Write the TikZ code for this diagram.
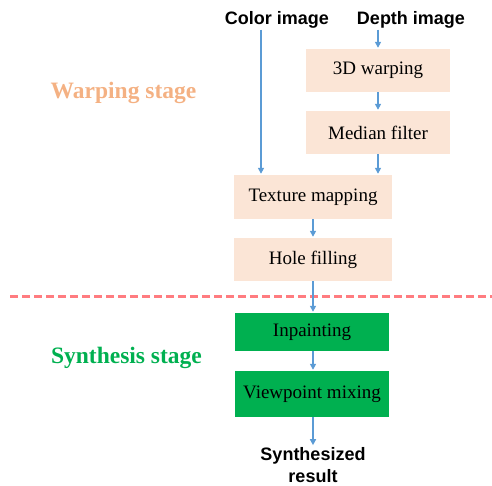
\documentclass[tikz,border=0pt]{standalone}
\usepackage{fontspec}
\setmainfont{Liberation Serif}
\newfontfamily\lblfont{Liberation Sans}
\usetikzlibrary{arrows.meta}
\definecolor{peach}{HTML}{FBE5D6}
\definecolor{warpclr}{HTML}{F4B183}
\definecolor{synclr}{HTML}{00B050}
\definecolor{arrclr}{HTML}{5B9BD5}
\definecolor{sepclr}{HTML}{FF7C80}
\tikzset{
  warpbox/.style={fill=peach, inner sep=0pt, font=\fontsize{19}{22}\selectfont},
  synbox/.style={fill=synclr, inner sep=0pt, font=\fontsize{19}{22}\selectfont},
  iolabel/.style={font=\lblfont\bfseries\fontsize{18}{22}\selectfont, align=center, inner sep=1pt},
  stagelabel/.style={font=\bfseries\fontsize{23.5}{26}\selectfont},
  flow/.style={-{Triangle[width=6pt,length=6pt]}, arrclr, line width=1.5pt, shorten >=1pt}
}
\begin{document}
\begin{tikzpicture}[x=1pt, y=-1pt]
				\useasboundingbox (0,0) rectangle (492,486);
				% inputs
				\node[iolabel] (color) at (277,20) {Color image};
				\node[iolabel] (depth) at (411,20) {Depth image};
				
				% warping stage
				\node[stagelabel, text=warpclr] (warplbl) at (123.5,93) {Warping stage};
				\node[warpbox, minimum width=144pt, minimum height=43pt] (warp) at (378,70.5) {3D warping};
				\node[warpbox, minimum width=144pt, minimum height=43pt] (median) at (378,132.5) {Median filter};
				\node[warpbox, minimum width=158pt, minimum height=44pt] (tex) at (313,197) {Texture mapping};
				\node[warpbox, minimum width=158pt, minimum height=43pt] (hole) at (313,259.5) {Hole filling};
				
				% separator
				\draw[sepclr, line width=3pt, dash pattern=on 8pt off 4pt] (10,296) -- (492,296);
				
				% synthesis stage
				\node[stagelabel, text=synclr] (synlbl) at (126.5,358) {Synthesis stage};
				\node[synbox, minimum width=154pt, minimum height=38pt] (inpaint) at (312,332) {Inpainting};
				\node[synbox, minimum width=154pt, minimum height=46pt] (mix) at (312,394) {Viewpoint mixing};
				\node[iolabel] (result) at (313,465) {Synthesized\\result};
				
				% arrows
				\draw[flow] ([xshift=-16pt]color.south) -- ([xshift=-16pt]color.south |- tex.north);
				\draw[flow] (depth.south -| warp.north) -- (warp.north);
				\draw[flow] (warp) -- (median);
				\draw[flow] (median.south) -- (median.south |- tex.north);
				\draw[flow] (tex) -- (hole);
				\draw[flow] (hole.south) -- (hole.south |- inpaint.north);
				\draw[flow] (inpaint.south -| hole.south) -- (hole.south |- mix.north);
				\draw[flow] (mix.south -| hole.south) -- (hole.south |- result.north);
			\end{tikzpicture}
\end{document}
